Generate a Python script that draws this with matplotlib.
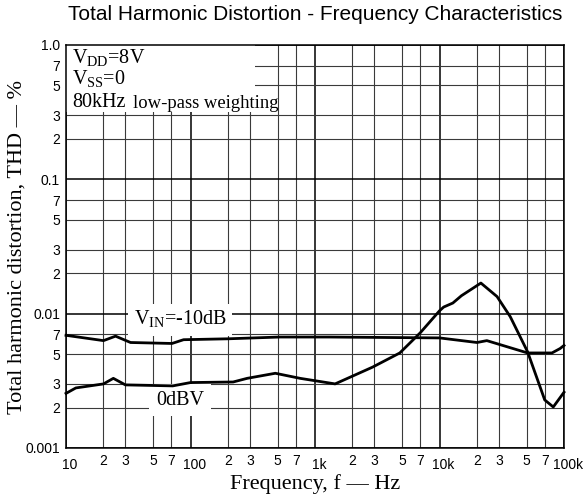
import matplotlib
matplotlib.use("Agg")
import matplotlib.pyplot as plt
import matplotlib.transforms as mtransforms
from matplotlib.patches import Rectangle
from matplotlib.ticker import FixedLocator, FixedFormatter

# フォント設定
plt.rcParams["font.family"] = ["Liberation Sans", "DejaVu Sans"]
plt.rcParams["mathtext.fontset"] = "custom"
plt.rcParams["mathtext.rm"] = "Liberation Serif"
SERIF = ["Liberation Serif", "DejaVu Serif"]

# VIN = -10dB のデータ
freq_10db = [10, 20, 25, 33, 71, 88, 200, 520, 1300, 10000, 20000, 24000, 51000, 80000, 93000, 100000]
thd_10db = [0.0069, 0.0063, 0.0068, 0.0061, 0.0060, 0.0064, 0.0065, 0.0067, 0.0067, 0.0066,
            0.0061, 0.0063, 0.0051, 0.0051, 0.0055, 0.0058]

# 0dBV のデータ
freq_0db = [10, 12, 20, 24, 30, 72, 100, 220, 285, 480, 760, 1450, 2900, 4800, 7000,
            10000, 10800, 12800, 15000, 21500, 29000, 37000, 51000, 70000, 82000, 100000]
thd_0db = [0.00255, 0.0028, 0.0030, 0.0033, 0.00295, 0.0029, 0.00307, 0.0031, 0.0033, 0.0036,
           0.0033, 0.0030, 0.0040, 0.0051, 0.0072, 0.0105, 0.0112, 0.0120, 0.0136, 0.0169,
           0.0134, 0.0095, 0.0052, 0.00228, 0.00202, 0.0026]

# 目盛り
x_major = [10, 100, 1000, 10000, 100000]
x_major_labels = ["10", "100", "1k", "10k", "100k"]
x_minor = [m * d for d in [10, 100, 1000, 10000] for m in [2, 3, 5, 7]]
x_minor_labels = ["2", "3", "5", "7"] * 4
y_major = [0.001, 0.01, 0.1, 1.0]
y_major_labels = ["0.001", "0.01", "0.1", "1.0"]
y_minor = [m * d for d in [0.001, 0.01, 0.1] for m in [2, 3, 5, 7]]
y_minor_labels = ["2", "3", "5", "7"] * 3

fig = plt.figure(figsize=(5.86, 4.99), dpi=100)
ax = fig.add_axes([66 / 586, 1 - 448 / 499, 498 / 586, 403 / 499])

ax.set_xscale("log")
ax.set_yscale("log")
ax.set_xlim(10, 100000)
ax.set_ylim(0.001, 1.0)

ax.xaxis.set_major_locator(FixedLocator(x_major))
ax.xaxis.set_major_formatter(FixedFormatter(x_major_labels))
ax.xaxis.set_minor_locator(FixedLocator(x_minor))
ax.xaxis.set_minor_formatter(FixedFormatter(x_minor_labels))
ax.yaxis.set_major_locator(FixedLocator(y_major))
ax.yaxis.set_major_formatter(FixedFormatter(y_major_labels))
ax.yaxis.set_minor_locator(FixedLocator(y_minor))
ax.yaxis.set_minor_formatter(FixedFormatter(y_minor_labels))

ax.tick_params(which="both", length=0, labelsize=10, colors="black")
ax.tick_params(axis="x", which="minor", pad=4.3)
ax.tick_params(axis="x", which="major", pad=7.2)
ax.tick_params(axis="y", which="both", pad=4.3)

# 10の累乗のラベルは少し右へ
offset = mtransforms.ScaledTranslation(4 / 100, 0, fig.dpi_scale_trans)
for label in ax.xaxis.get_majorticklabels():
    label.set_transform(label.get_transform() + offset)

# グリッド
ax.grid(which="major", color="black", linewidth=1.1)
ax.grid(which="minor", color="#3a3a3a", linewidth=0.8)
for sp in ax.spines.values():
    sp.set_linewidth(1.1)

# 条件表示の背景
ax.add_patch(Rectangle((0, 0.834), 0.38, 0.166, transform=ax.transAxes,
                       facecolor="white", edgecolor="none", zorder=2))

# 曲線（ラベルの白地より上に描く）
ax.plot(freq_10db, thd_10db, color="black", linewidth=2.0, zorder=5, clip_on=False)
ax.plot(freq_0db, thd_0db, color="black", linewidth=2.0, zorder=5, clip_on=False)

# 注記
ax.text(0.012, 0.968, "V$_{\\mathrm{DD}}$=8V", transform=ax.transAxes, family=SERIF,
        fontsize=14.5, va="center", ha="left", zorder=4)
ax.text(0.012, 0.914, "V$_{\\mathrm{SS}}$=0", transform=ax.transAxes, family=SERIF,
        fontsize=14.5, va="center", ha="left", zorder=4)
ax.text(0.012, 0.858, "80kHz", transform=ax.transAxes, family=SERIF,
        fontsize=14.5, va="center", ha="left", zorder=4)
ax.text(0.1345, 0.856, "low-pass weighting", transform=ax.transAxes, family=SERIF,
        fontsize=13.4, va="center", ha="left", zorder=4)
ax.text(0.229, 0.318, "V$_{\\mathrm{IN}}$=-10dB", transform=ax.transAxes,
        family=SERIF, fontsize=14.5, va="center", ha="center", zorder=4,
        bbox=dict(facecolor="white", edgecolor="none", pad=4))
ax.text(0.229, 0.119, "0dBV", transform=ax.transAxes, family=SERIF, fontsize=14.5,
        va="center", ha="center", zorder=4,
        bbox=dict(facecolor="white", edgecolor="none", pad=5))

# ラベルとタイトル
ax.set_xlabel("Frequency, f — Hz", family=SERIF, fontsize=16)
ax.set_ylabel("Total harmonic distortion, THD — %", family=SERIF, fontsize=16)
ax.xaxis.set_label_coords(0.5, -0.065)
ax.yaxis.set_label_coords(-0.08, 0.5)
fig.text(315 / 586, 1 - 15 / 499, "Total Harmonic Distortion - Frequency Characteristics",
         ha="center", va="center", fontsize=15)

fig.savefig("out.png", dpi=100)
